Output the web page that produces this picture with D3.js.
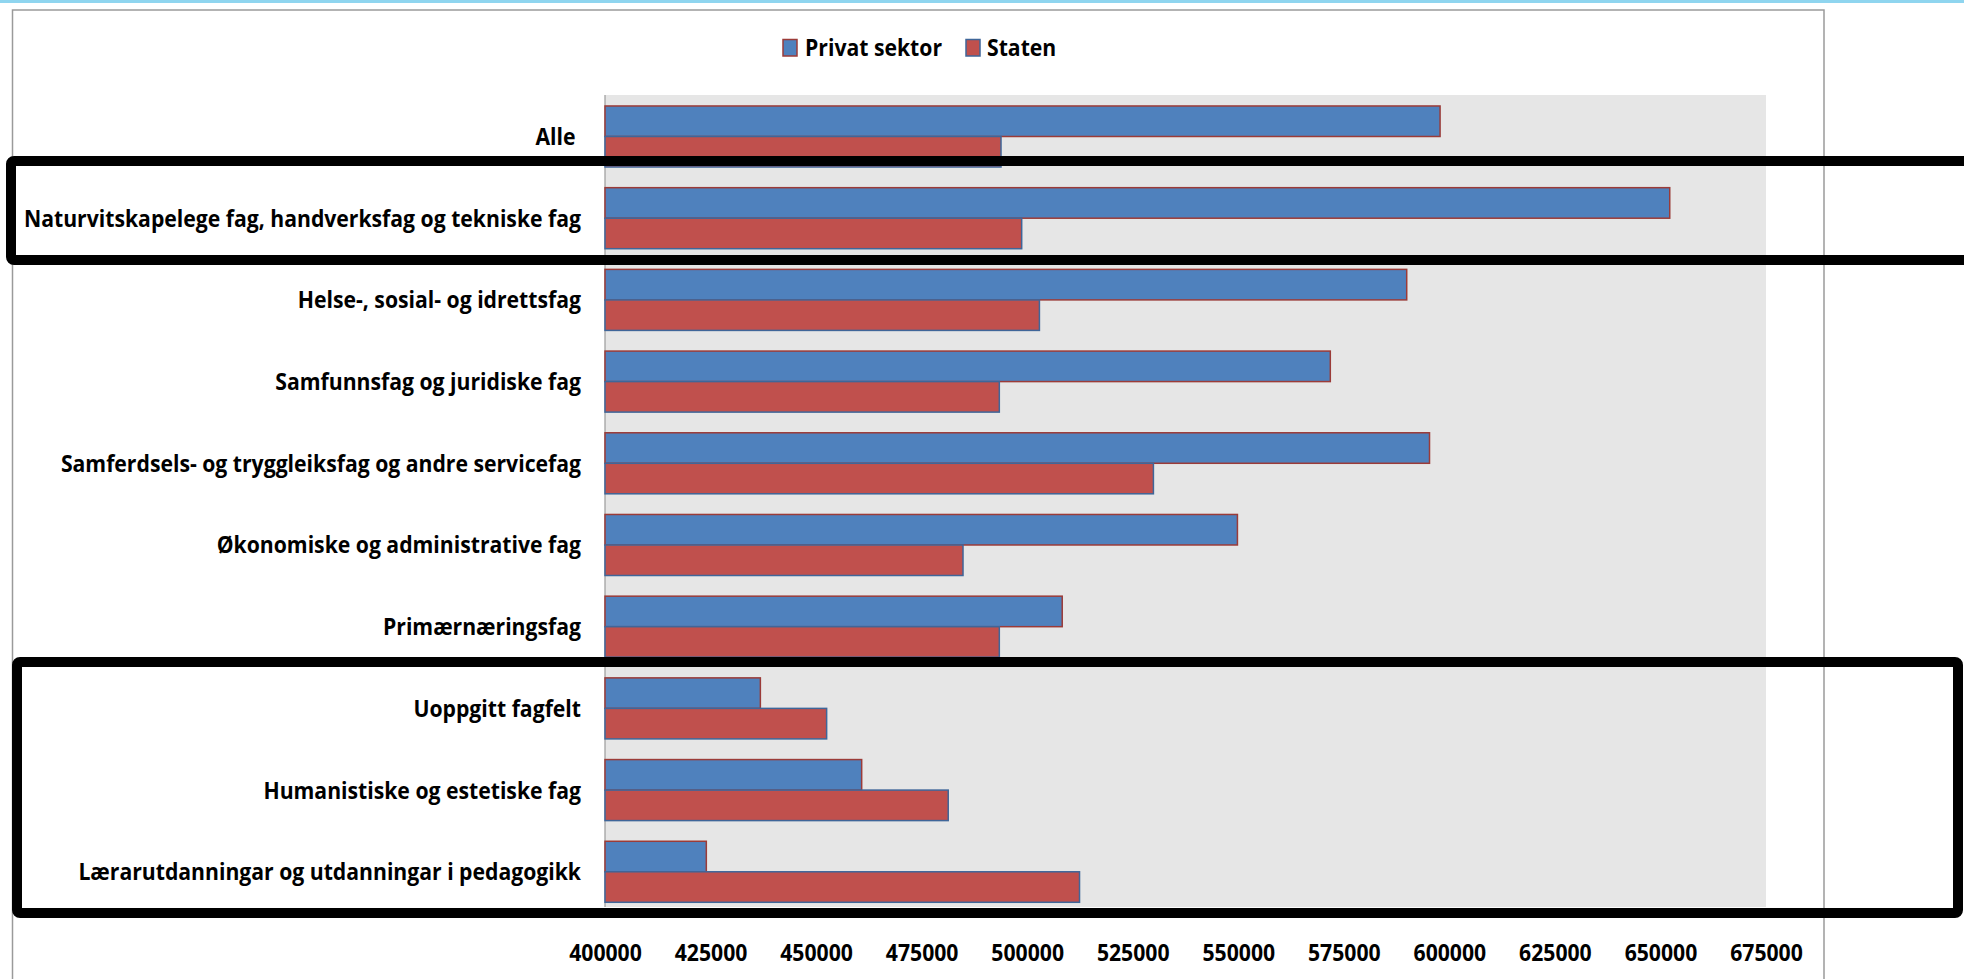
<!DOCTYPE html>
<html>
<head>
<meta charset="utf-8">
<script src="https://cdn.jsdelivr.net/npm/d3@7"></script>
<style>
  html, body { margin: 0; padding: 0; background: #fff; }
  svg { display: block; }
  text { font-family: "Open Sans", sans-serif; font-weight: 700; fill: #000; }
</style>
</head>
<body>
<div id="chart"></div>
<script>
// data
const categories = [
  "Alle ",
  "Naturvitskapelege fag, handverksfag og tekniske fag",
  "Helse-, sosial- og idrettsfag",
  "Samfunnsfag og juridiske fag",
  "Samferdsels- og tryggleiksfag og andre servicefag",
  "Økonomiske og administrative fag",
  "Primærnæringsfag",
  "Uoppgitt fagfelt",
  "Humanistiske og estetiske fag",
  "Lærarutdanningar og utdanningar i pedagogikk"
]
const privat = [597800, 652200, 589900, 571800, 595300, 549800, 508300, 436800, 460800, 424000]
const staten = [493800, 498700, 502900, 493400, 529900, 484800, 493400, 452500, 481300, 512400]
const seriesNames = ["Privat sektor", "Staten"]
const tickValues = [400000, 425000, 450000, 475000, 500000, 525000, 550000, 575000, 600000, 625000, 650000, 675000]

const W = 1964, H = 979
const fill = { "Privat sektor": "#4f81bd", "Staten": "#c0504d" }
const edge = { "Privat sektor": "#9b3b38", "Staten": "#3f6699" }
const fontSize = "24px"

const svg = d3.select("#chart").append("svg")
    .attr("width", W)
    .attr("height", H)

// thin light blue strip at the very top
svg.append("rect").attr("x", 0).attr("y", 0).attr("width", W).attr("height", 3).attr("fill", "#8fd5ef")

// chart frame
svg.append("rect")
    .attr("x", 12.5).attr("y", 10).attr("width", 1811.5).attr("height", 1000)
    .attr("fill", "none").attr("stroke", "#9a9a9a").attr("stroke-width", 1.5)

const plot = { left: 605, right: 1766, top: 95, bottom: 907 }

const x = d3.scaleLinear()
    .domain([400000, 675000])
    .range([plot.left, plot.right])

const y = d3.scaleBand()
    .domain(categories)
    .range([plot.top, plot.bottom])
    .paddingInner(0.253)
    .paddingOuter(0.096)
    .align(0.7)

const ys = d3.scaleBand()
    .domain(seriesNames)
    .range([0, y.bandwidth()])

// grey plot area
svg.append("rect")
    .attr("x", plot.left).attr("y", plot.top)
    .attr("width", plot.right - plot.left).attr("height", plot.bottom - plot.top)
    .attr("fill", "#e6e6e6")

svg.append("line")
    .attr("x1", plot.left).attr("x2", plot.left)
    .attr("y1", plot.top).attr("y2", plot.bottom)
    .attr("stroke", "#9a9a9a").attr("stroke-width", 1.2)

// bars
const rows = categories.map((c, i) => ({ cat: c, vals: [
    { s: "Privat sektor", v: privat[i] },
    { s: "Staten", v: staten[i] }
] }))

const g = svg.append("g")
    .selectAll("g")
    .data(rows)
    .join("g")
    .attr("transform", d => "translate(0," + y(d.cat) + ")")

g.selectAll("rect")
    .data(d => d.vals)
    .join("rect")
    .attr("x", x(400000))
    .attr("y", d => ys(d.s))
    .attr("width", d => x(d.v) - x(400000))
    .attr("height", ys.bandwidth())
    .attr("fill", d => fill[d.s])
    .attr("stroke", d => edge[d.s])
    .attr("stroke-width", 1.5)

// category labels
const labels = svg.append("g")
    .selectAll("text")
    .data(categories)
    .join("text")
    .attr("x", 581)
    .attr("y", d => y(d) + y.bandwidth() / 2 + 8.5)
    .attr("text-anchor", "end")
    .style("white-space", "pre")
    .style("font-size", fontSize)
    .text(d => d)

// x axis
const xAxis = d3.axisBottom(x)
    .tickValues(tickValues)
    .tickFormat(d3.format("d"))
    .tickSize(0)

const ax = svg.append("g")
    .attr("transform", "translate(0," + 940 + ")")
    .call(xAxis)
ax.select(".domain").remove()
ax.selectAll("text")
    .attr("dy", null)
    .attr("y", 21)
    .style("font-size", fontSize)
    .style("font-family", "'Open Sans', sans-serif")
    .style("font-weight", 700)
    .attr("fill", "#000")

// legend
const legendItems = [
  { s: "Privat sektor", x: 783, tx: 805 },
  { s: "Staten", x: 966, tx: 987 }
]
const lg = svg.append("g")
lg.selectAll("rect")
    .data(legendItems)
    .join("rect")
    .attr("x", d => d.x).attr("y", 39.5)
    .attr("width", 14).attr("height", 16.5)
    .attr("fill", d => fill[d.s])
    .attr("stroke", d => edge[d.s]).attr("stroke-width", 1.5)
const legendText = lg.selectAll("text")
    .data(legendItems)
    .join("text")
    .attr("x", d => d.tx).attr("y", 56)
    .style("font-size", fontSize)
    .text(d => d.s)

// squeeze the text horizontally like the narrow original font
const longest = labels.filter((d, i) => i === 1).node()
const k = 557 / longest.getComputedTextLength()
function squeeze(sel) {
  sel.each(function () {
    const w = this.getComputedTextLength()
    d3.select(this).attr("textLength", w * k).attr("lengthAdjust", "spacingAndGlyphs")
  })
}
squeeze(labels)
squeeze(legendText)
squeeze(ax.selectAll("text"))

// black annotation boxes
svg.append("rect")
    .attr("x", 11).attr("y", 161).attr("width", 2000).attr("height", 99)
    .attr("rx", 3)
    .attr("fill", "none").attr("stroke", "#000").attr("stroke-width", 10)
svg.append("rect")
    .attr("x", 17).attr("y", 662).attr("width", 1941).attr("height", 251)
    .attr("rx", 3)
    .attr("fill", "none").attr("stroke", "#000").attr("stroke-width", 10)
</script>
</body>
</html>
